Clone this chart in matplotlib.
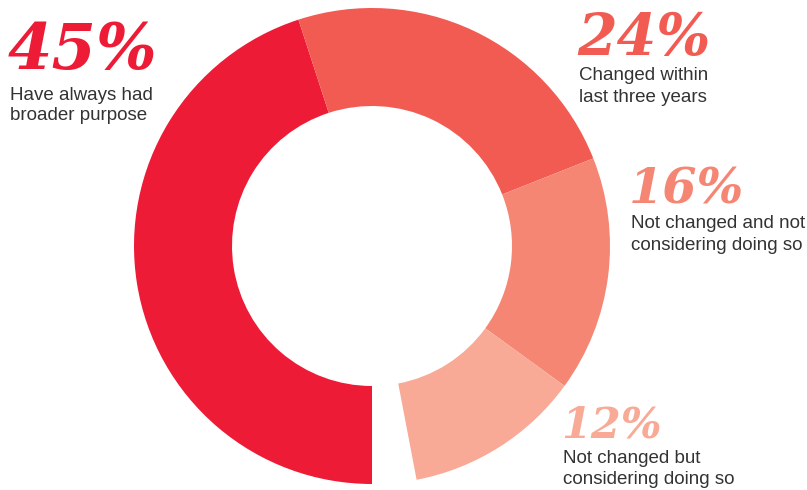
import matplotlib.pyplot as plt

# slice values (percent), the rest of the ring is left empty
shares = [45, 24, 16, 12]
pct_labels = ["45%", "24%", "16%", "12%"]
desc_labels = [
    ["Have always had", "broader purpose"],
    ["Changed within", "last three years"],
    ["Not changed and not", "considering doing so"],
    ["Not changed but", "considering doing so"],
]
colors = ["#ED1B36", "#F15B52", "#F58673", "#F8AA97"]

W, H = 807, 490
fig = plt.figure(figsize=(W / 100, H / 100), dpi=100)
ax = fig.add_axes([0, 0, 1, 1])

gap = 100 - sum(shares)
ax.pie(shares + [gap], colors=colors + ["none"], startangle=270,
       counterclock=False, radius=238, center=(372, H - 246),
       wedgeprops=dict(width=98, linewidth=0))

ax.set_xlim(0, W)
ax.set_ylim(0, H)
ax.set_aspect("auto")
ax.axis("off")

# label layout in pixel coords (from the top): x, pct baseline, font size, line baselines
layout = [
    (8, 69, 46, (100, 120)),
    (577, 55, 41, (80, 102)),
    (629, 203, 35.5, (228, 250)),
    (561, 437, 31, (463, 484)),
]

for (x, yb, fs, lines), pct, desc, col in zip(layout, pct_labels, desc_labels, colors):
    ax.text(x, H - yb, pct, color=col, fontsize=fs, family="DejaVu Serif",
            weight="bold", style="italic", ha="left", va="baseline")
    for ly, line in zip(lines, desc):
        ax.text(x + 2, H - ly, line, color="#333333", fontsize=13.5,
                family="Liberation Sans", ha="left", va="baseline")

fig.savefig("out.png", dpi=100)
